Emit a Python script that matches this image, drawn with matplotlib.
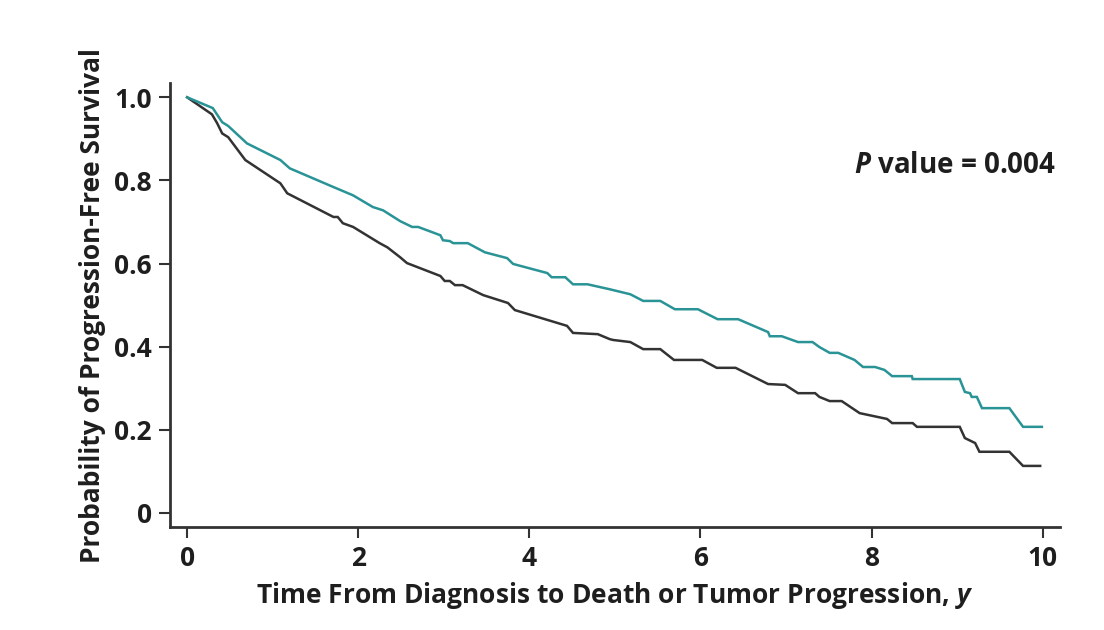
import matplotlib.pyplot as plt

# Kaplan-Meier style curves (time in years, survival prob.)
t_teal = [0, 0.30, 0.41, 0.48, 0.70, 1.09, 1.20, 1.71, 1.94, 2.17, 2.29, 2.49,
          2.63, 2.70, 2.96, 2.99, 3.07, 3.11, 3.28, 3.48, 3.74, 3.81, 4.21, 4.26,
          4.42, 4.51, 4.68, 4.94, 5.18, 5.33, 5.53, 5.70, 5.97, 6.20, 6.44, 6.79,
          6.81, 6.95, 7.14, 7.31, 7.39, 7.51, 7.61, 7.80, 7.90, 8.04, 8.15, 8.24,
          8.47, 8.48, 9.03, 9.09, 9.15, 9.17, 9.23, 9.29, 9.61, 9.77, 9.99]
s_teal = [1.0, 0.974, 0.940, 0.931, 0.889, 0.849, 0.829, 0.784, 0.764, 0.736, 0.728, 0.702,
          0.688, 0.688, 0.668, 0.656, 0.654, 0.649, 0.649, 0.627, 0.613, 0.599, 0.577, 0.567,
          0.567, 0.550, 0.550, 0.538, 0.526, 0.510, 0.510, 0.490, 0.490, 0.466, 0.466, 0.435,
          0.425, 0.425, 0.411, 0.411, 0.399, 0.385, 0.385, 0.368, 0.351, 0.351, 0.344, 0.329,
          0.329, 0.322, 0.322, 0.291, 0.288, 0.279, 0.279, 0.252, 0.252, 0.207, 0.207]

t_black = [0, 0.29, 0.35, 0.41, 0.48, 0.68, 1.09, 1.17, 1.71, 1.76, 1.82, 1.94,
           2.25, 2.34, 2.49, 2.57, 2.96, 3.01, 3.07, 3.13, 3.22, 3.46, 3.75, 3.83,
           4.44, 4.51, 4.80, 4.94, 4.98, 5.18, 5.33, 5.53, 5.69, 6.02, 6.19, 6.41,
           6.79, 6.99, 7.14, 7.34, 7.39, 7.51, 7.65, 7.86, 8.18, 8.24, 8.48, 8.53,
           9.03, 9.09, 9.21, 9.26, 9.61, 9.77, 9.97]
s_black = [1.0, 0.959, 0.938, 0.913, 0.904, 0.849, 0.793, 0.769, 0.712, 0.712, 0.697, 0.688,
           0.649, 0.639, 0.615, 0.601, 0.570, 0.558, 0.558, 0.548, 0.548, 0.524, 0.505, 0.488,
           0.450, 0.433, 0.430, 0.418, 0.416, 0.411, 0.394, 0.394, 0.368, 0.368, 0.349, 0.349,
           0.310, 0.308, 0.288, 0.288, 0.279, 0.269, 0.269, 0.240, 0.226, 0.216, 0.216, 0.207,
           0.207, 0.180, 0.168, 0.147, 0.147, 0.113, 0.113]

xticks = [0, 2, 4, 6, 8, 10]
yticks = [0, 0.2, 0.4, 0.6, 0.8, 1.0]
ytick_labels = ['0', '0.2', '0.4', '0.6', '0.8', '1.0']

plt.rcParams['font.family'] = ['Open Sans', 'DejaVu Sans']
plt.rcParams['mathtext.fontset'] = 'custom'
plt.rcParams['mathtext.bfit'] = 'Open Sans:bold:italic'
axis_col = '#333333'
txt_col = '#1e1e1e'

fig = plt.figure(figsize=(11.04, 6.3), dpi=100)
ax = fig.add_axes([0.154, 0.1635, 0.806, 0.7045])

ax.plot(t_black, s_black, color='#333333', lw=1.8, solid_joinstyle='miter')
ax.plot(t_teal, s_teal, color='#2a9396', lw=1.8, solid_joinstyle='miter')

ax.set_xlim(-0.2, 10.2)
ax.set_ylim(-0.034, 1.034)
ax.set_xticks(xticks)
ax.set_xticklabels([str(x) for x in xticks])
ax.set_yticks(yticks)
ax.set_yticklabels(ytick_labels)

for side in ['top', 'right']:
    ax.spines[side].set_visible(False)
for side in ['left', 'bottom']:
    ax.spines[side].set_color(axis_col)
    ax.spines[side].set_linewidth(2)

ax.tick_params(direction='out', length=8, width=1.5, color=axis_col,
               labelsize=19, labelcolor=txt_col, pad=5)
for lab in ax.get_xticklabels() + ax.get_yticklabels():
    lab.set_fontweight('bold')

ax.set_xlabel(r'Time From Diagnosis to Death or Tumor Progression, $\mathbfit{y}$',
              fontsize=19, fontweight='bold', color=txt_col, labelpad=6)
ax.set_ylabel('Probability of Progression-Free Survival',
              fontsize=19, fontweight='bold', color=txt_col, labelpad=6)

ax.text(10.16, 0.837, r'$\mathbfit{P}$ value = 0.004', ha='right', va='center',
        fontsize=20, fontweight='bold', color=txt_col)

fig.savefig('out.png', dpi=100)
